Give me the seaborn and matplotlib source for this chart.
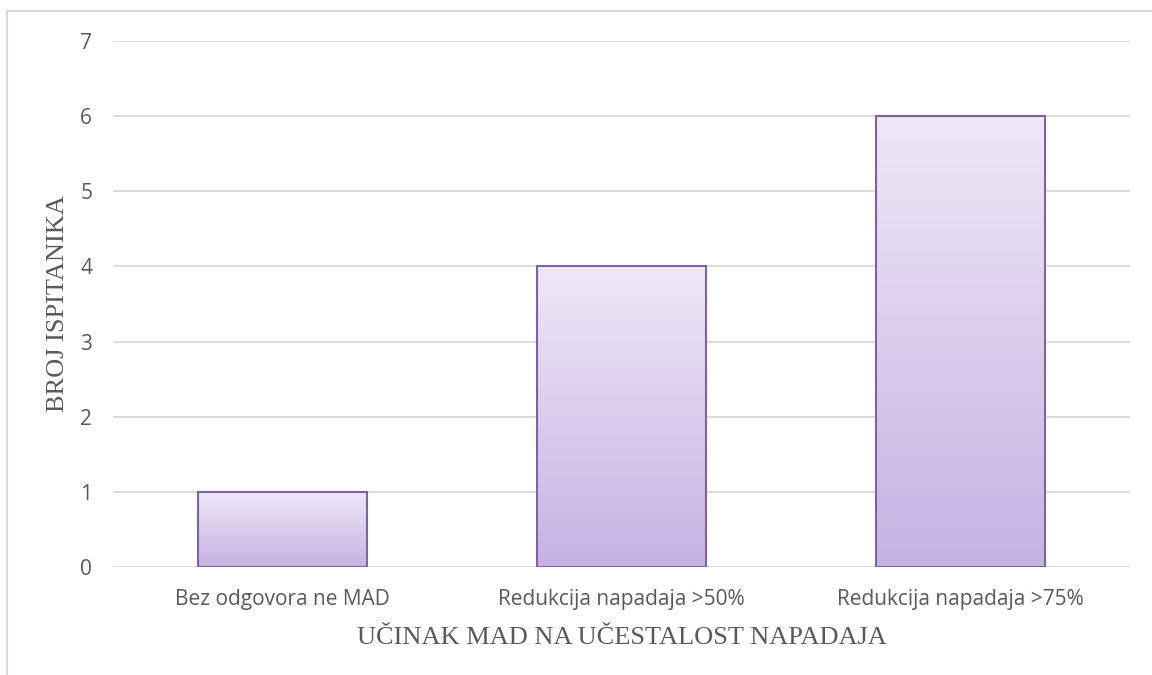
import numpy as np
import pandas as pd
import matplotlib
matplotlib.use("Agg")
import matplotlib.pyplot as plt
import seaborn as sns
from matplotlib.colors import LinearSegmentedColormap
from matplotlib.lines import Line2D

categories = ["Bez odgovora ne MAD", "Redukcija napadaja >50%", "Redukcija napadaja >75%"]
values = [1, 4, 6]
y_ticks = [0, 1, 2, 3, 4, 5, 6, 7]
x_label = "UČINAK MAD NA UČESTALOST NAPADAJA"
y_label = "BROJ ISPITANIKA"

df = pd.DataFrame({"cat": categories, "val": values})

sns.set_theme(style="white")
plt.rcParams["font.family"] = ["Open Sans", "DejaVu Sans"]

fig = plt.figure(figsize=(11.52, 6.75), dpi=100)
ax = fig.add_axes([113/1152, 1 - 567/675, (1130-113)/1152, (567-41)/675])

sns.barplot(data=df, x="cat", y="val", ax=ax, width=0.5, color="#d9cbed",
            edgecolor="#7f63a1", linewidth=1.5, zorder=3)

cmap = LinearSegmentedColormap.from_list("g", ["#c6b2e3", "#eee8f7"])
grad = np.linspace(0, 1, 256).reshape(-1, 1)
for p in ax.patches:
    x0, y0 = p.get_x(), p.get_y()
    w, h = p.get_width(), p.get_height()
    p.set_facecolor("none")
    im = ax.imshow(grad, cmap=cmap, aspect="auto", origin="lower",
                   extent=[x0, x0 + w, y0, y0 + h], zorder=2.5)
    im.set_clip_path(p)

ax.set_xlim(-0.5, 2.5)
ax.set_ylim(0, 7)
ax.set_yticks(y_ticks)
ax.yaxis.grid(True, color="#d9d9d9", linewidth=1.3, zorder=0)
ax.set_axisbelow(True)
for s in ax.spines.values():
    s.set_visible(False)
ax.tick_params(axis="both", length=0, labelsize=15, labelcolor="#595959")
ax.tick_params(axis="y", pad=15)
ax.tick_params(axis="x", pad=16)
ax.set_xlabel(x_label, family="Liberation Serif", fontsize=19, color="#595959")
ax.set_ylabel(y_label, family="Liberation Serif", fontsize=19, color="#595959")
ax.xaxis.set_label_coords(0.5, -0.115)
ax.yaxis.set_label_coords(-0.0433, 0.5)

# chart-area border
fig.add_artist(Line2D([7/1152, 7/1152], [0, 1 - 11/675], transform=fig.transFigure,
                      color="#d9d9d9", linewidth=1.5))
fig.add_artist(Line2D([7/1152, 1], [1 - 11/675, 1 - 11/675], transform=fig.transFigure,
                      color="#d9d9d9", linewidth=1.5))

fig.savefig("out.png", dpi=100)
